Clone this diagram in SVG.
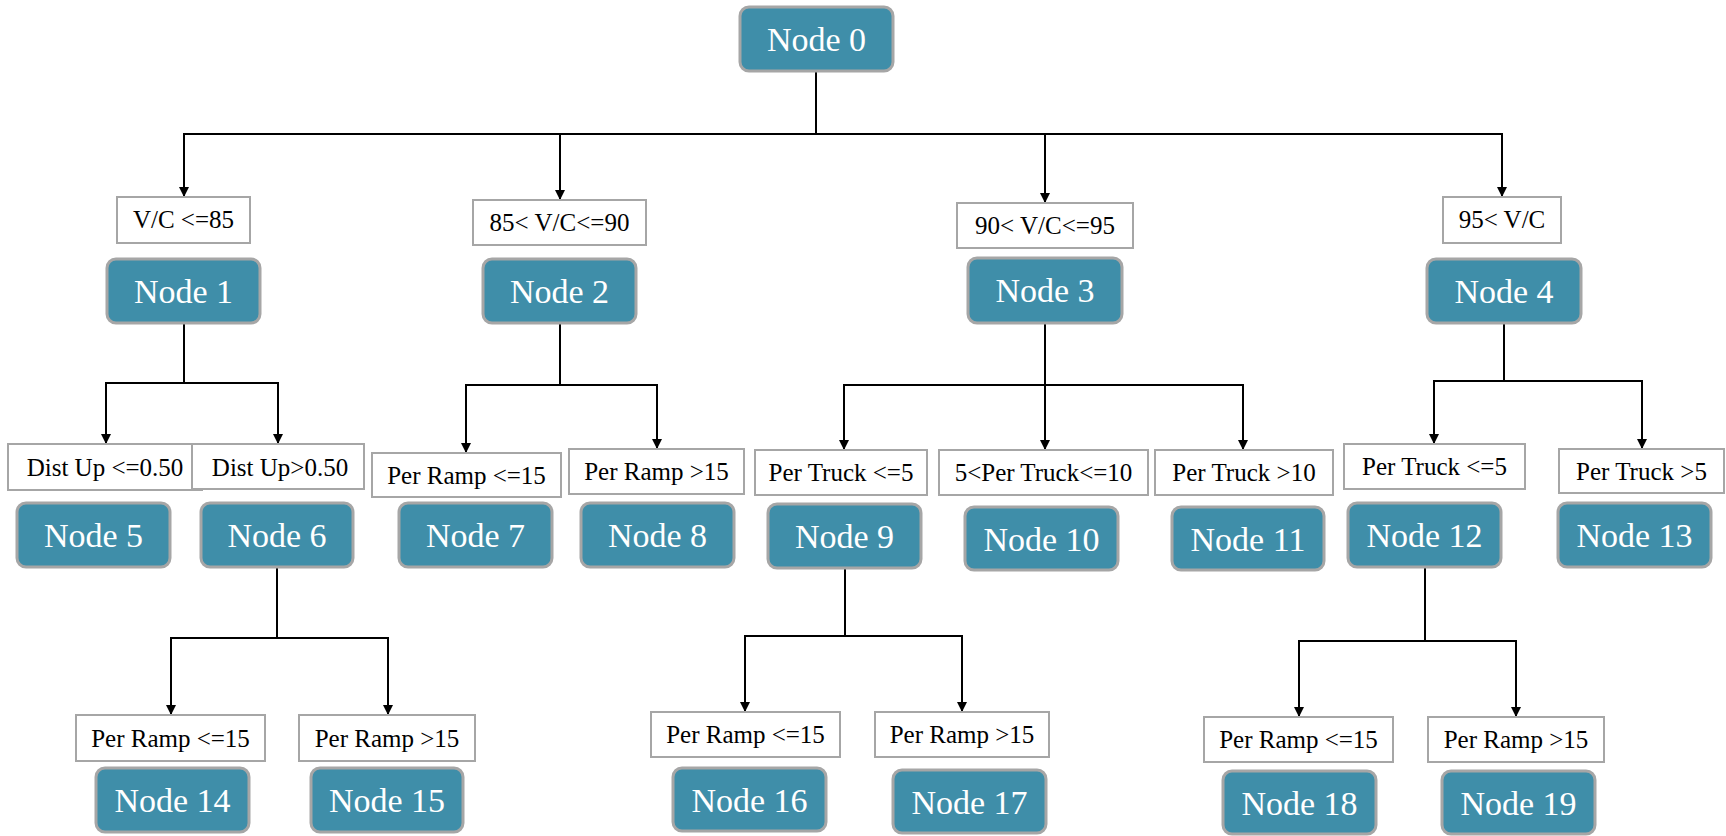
<svg xmlns="http://www.w3.org/2000/svg" width="1726" height="836" viewBox="0 0 1726 836">
  <style>
    .node rect { fill: #3F8EA9; stroke: #A6A6A6; stroke-width: 3; }
    .node text { fill: #FFFFFF; font-family: "Liberation Serif", "Times New Roman", serif; font-size: 34px; text-anchor: middle; }
    .cond rect { fill: #FFFFFF; stroke: #A6A6A6; stroke-width: 2; }
    .cond text { fill: #000000; font-family: "Liberation Serif", "Times New Roman", serif; font-size: 25px; text-anchor: middle; }
    #connectors path { fill: none; stroke: #000000; stroke-width: 2; marker-end: url(#arrow); }
  </style>
  <defs>
    <marker id="arrow" markerUnits="userSpaceOnUse" markerWidth="12" markerHeight="12" refX="10" refY="5" orient="auto">
      <path d="M0,0 L10,5 L0,10 Z" fill="#000000"/>
    </marker>
  </defs>
  <rect width="1726" height="836" fill="#FFFFFF"/>

  <!-- tree edges -->
  <g id="connectors">
    <path d="M816,72 V134 H184 V197"/>
    <path d="M816,72 V134 H560 V200"/>
    <path d="M816,72 V134 H1045 V203"/>
    <path d="M816,72 V134 H1502 V197"/>

    <path d="M184,323 V383 H106 V444"/>
    <path d="M184,383 H278 V444"/>

    <path d="M560,323 V385 H466 V453"/>
    <path d="M560,385 H657 V449"/>

    <path d="M1045,323 V385 H844 V450"/>
    <path d="M1045,385 V450"/>
    <path d="M1045,385 H1243 V450"/>

    <path d="M1504,323 V381 H1434 V444"/>
    <path d="M1504,381 H1642 V449"/>

    <path d="M277,567 V638 H171 V715"/>
    <path d="M277,638 H388 V715"/>

    <path d="M845,568 V636 H745 V712"/>
    <path d="M845,636 H962 V712"/>

    <path d="M1425,567 V641 H1299 V717"/>
    <path d="M1425,641 H1516 V717"/>
  </g>

  <!-- split conditions -->
  <g id="cond-1" class="cond"><rect x="117" y="197" width="133" height="46"/><text x="183.5" y="228">V/C &lt;=85</text></g>
  <g id="cond-2" class="cond"><rect x="473" y="200" width="173" height="45"/><text x="559.5" y="231">85&lt; V/C&lt;=90</text></g>
  <g id="cond-3" class="cond"><rect x="957" y="203" width="176" height="45"/><text x="1045" y="234">90&lt; V/C&lt;=95</text></g>
  <g id="cond-4" class="cond"><rect x="1443" y="197" width="118" height="46"/><text x="1502" y="228">95&lt; V/C</text></g>

  <g id="cond-5" class="cond"><rect x="8" y="444" width="194" height="46"/><text x="105" y="476">Dist Up &lt;=0.50</text></g>
  <g id="cond-6" class="cond"><rect x="192" y="444" width="172" height="45" fill="none"/><text x="280" y="476">Dist Up&gt;0.50</text></g>
  <g id="cond-7" class="cond"><rect x="372" y="453" width="189" height="44"/><text x="466.5" y="484">Per Ramp &lt;=15</text></g>
  <g id="cond-8" class="cond"><rect x="569" y="449" width="175" height="45"/><text x="656.5" y="480">Per Ramp &gt;15</text></g>
  <g id="cond-9" class="cond"><rect x="755" y="450" width="172" height="45"/><text x="841" y="481">Per Truck &lt;=5</text></g>
  <g id="cond-10" class="cond"><rect x="939" y="450" width="209" height="45"/><text x="1043.5" y="481">5&lt;Per Truck&lt;=10</text></g>
  <g id="cond-11" class="cond"><rect x="1155" y="450" width="178" height="45"/><text x="1244" y="481">Per Truck &gt;10</text></g>
  <g id="cond-12" class="cond"><rect x="1344" y="444" width="181" height="45"/><text x="1434.5" y="475">Per Truck &lt;=5</text></g>
  <g id="cond-13" class="cond"><rect x="1559" y="449" width="165" height="44"/><text x="1641.5" y="480">Per Truck &gt;5</text></g>

  <g id="cond-14" class="cond"><rect x="76" y="715" width="189" height="46"/><text x="170.5" y="747">Per Ramp &lt;=15</text></g>
  <g id="cond-15" class="cond"><rect x="299" y="715" width="176" height="46"/><text x="387" y="747">Per Ramp &gt;15</text></g>
  <g id="cond-16" class="cond"><rect x="651" y="712" width="189" height="45"/><text x="745.5" y="743">Per Ramp &lt;=15</text></g>
  <g id="cond-17" class="cond"><rect x="875" y="712" width="174" height="45"/><text x="962" y="743">Per Ramp &gt;15</text></g>
  <g id="cond-18" class="cond"><rect x="1204" y="717" width="189" height="45"/><text x="1298.5" y="748">Per Ramp &lt;=15</text></g>
  <g id="cond-19" class="cond"><rect x="1428" y="717" width="176" height="45"/><text x="1516" y="748">Per Ramp &gt;15</text></g>

  <!-- tree nodes -->
  <g id="node-0" class="node"><rect x="740" y="7" width="153" height="64" rx="9"/><text x="816.5" y="51">Node 0</text></g>

  <g id="node-1" class="node"><rect x="107" y="259" width="153" height="64" rx="9"/><text x="183.5" y="303">Node 1</text></g>
  <g id="node-2" class="node"><rect x="483" y="259" width="153" height="64" rx="9"/><text x="559.5" y="303">Node 2</text></g>
  <g id="node-3" class="node"><rect x="968" y="258" width="154" height="65" rx="9"/><text x="1045" y="302">Node 3</text></g>
  <g id="node-4" class="node"><rect x="1427" y="259" width="154" height="64" rx="9"/><text x="1504" y="303">Node 4</text></g>

  <g id="node-5" class="node"><rect x="17" y="503" width="153" height="64" rx="9"/><text x="93.5" y="547">Node 5</text></g>
  <g id="node-6" class="node"><rect x="201" y="503" width="152" height="64" rx="9"/><text x="277" y="547">Node 6</text></g>
  <g id="node-7" class="node"><rect x="399" y="503" width="153" height="64" rx="9"/><text x="475.5" y="547">Node 7</text></g>
  <g id="node-8" class="node"><rect x="581" y="503" width="153" height="64" rx="9"/><text x="657.5" y="547">Node 8</text></g>
  <g id="node-9" class="node"><rect x="768" y="504" width="153" height="64" rx="9"/><text x="844.5" y="548">Node 9</text></g>
  <g id="node-10" class="node"><rect x="965" y="507" width="153" height="63" rx="9"/><text x="1041.5" y="551">Node 10</text></g>
  <g id="node-11" class="node"><rect x="1172" y="507" width="152" height="63" rx="9"/><text x="1248" y="551">Node 11</text></g>
  <g id="node-12" class="node"><rect x="1348" y="503" width="153" height="64" rx="9"/><text x="1424.5" y="547">Node 12</text></g>
  <g id="node-13" class="node"><rect x="1558" y="503" width="153" height="64" rx="9"/><text x="1634.5" y="547">Node 13</text></g>

  <g id="node-14" class="node"><rect x="96" y="768" width="153" height="64" rx="9"/><text x="172.5" y="812">Node 14</text></g>
  <g id="node-15" class="node"><rect x="311" y="768" width="152" height="64" rx="9"/><text x="387" y="812">Node 15</text></g>
  <g id="node-16" class="node"><rect x="673" y="768" width="153" height="63" rx="9"/><text x="749.5" y="812">Node 16</text></g>
  <g id="node-17" class="node"><rect x="893" y="770" width="153" height="63" rx="9"/><text x="969.5" y="814">Node 17</text></g>
  <g id="node-18" class="node"><rect x="1223" y="771" width="153" height="63" rx="9"/><text x="1299.5" y="815">Node 18</text></g>
  <g id="node-19" class="node"><rect x="1442" y="771" width="153" height="63" rx="9"/><text x="1518.5" y="815">Node 19</text></g>
</svg>
